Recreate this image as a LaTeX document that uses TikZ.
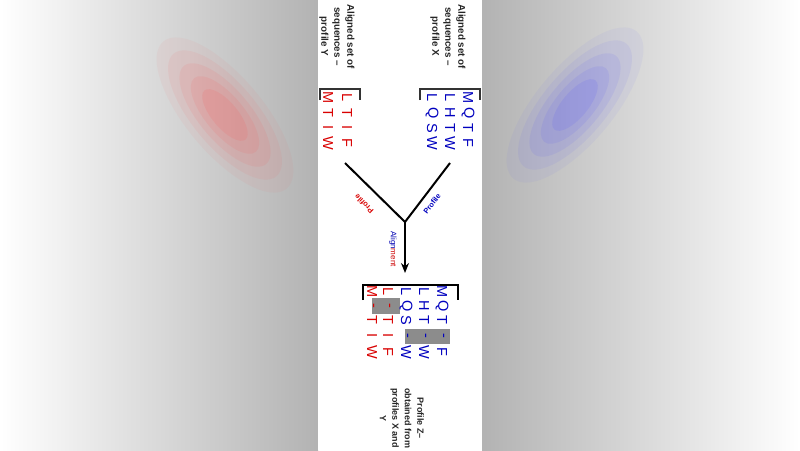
\documentclass[tikz,border=0pt]{standalone}
\usepackage{fontspec}
\usetikzlibrary{arrows.meta}
\setmainfont{Liberation Sans}
\begin{document}
\begin{tikzpicture}[x=1pt,y=-1pt,
  lab/.style={rotate=-90,font=\bfseries\fontsize{9.8}{13}\selectfont,align=center,text=black!85,inner sep=1pt},
  seqX/.style={rotate=-90,font=\fontsize{14.5}{14}\selectfont,text=blue!75!black,inner sep=0},
  seqY/.style={rotate=-90,font=\fontsize{14.5}{14}\selectfont,text=red!85!black,inner sep=0},
  plab/.style={font=\bfseries\fontsize{7.5}{8}\selectfont,inner sep=1pt},
  brk/.style={line width=1.2pt,black!80},
  gap/.style={fill=black!45,draw=none}]
\useasboundingbox (0,0) rectangle (800,450);
\shade[left color=white,right color=black!30] (0,0) rectangle (318,450);
\shade[left color=black!30,right color=white] (482,0) rectangle (800,450);
\foreach \s/\o in {1.2/0.05,1/0.07,0.8/0.09,0.6/0.1,0.4/0.12}{
  \fill[red!70,opacity=\o,rotate around={-50:(225,115)}] (225,115) ellipse ({80*\s} and {32*\s});
  \fill[blue!70,opacity=\o,rotate around={50:(575,105)}] (575,105) ellipse ({80*\s} and {32*\s});
}
\fill[white] (318,0) rectangle (482,450);
% labels
\node[lab,anchor=west] (lx) at (448,3) {Aligned set of\\sequences --\\profile X};
\node[lab,anchor=west] (ly) at (337,3) {Aligned set of\\sequences --\\profile Y};
\node[lab,anchor=west,font=\bfseries\fontsize{9}{12.5}\selectfont] (lz) at (402,387) {Profile Z--\\obtained from\\profiles X and\\Y};
% brackets
\draw[brk] (420,100) -- (420,89) -- (480,89) -- (480,100);
\draw[brk] (320,100) -- (320,89) -- (360,89) -- (360,100);
\draw[line width=2pt] (363,300) -- (363,285) -- (458,285) -- (458,300);
% sequences X and Y
\foreach \r/\x in {{M,Q,T,F}/468,{L,H,T,W}/450,{L,Q,S,W}/432}{
  \foreach \c [count=\i] in \r { \node[seqX] (x\x\i) at (\x,{83+15*\i}) {\c}; } }
\foreach \r/\x in {{L,T,I,F}/347,{M,T,I,W}/328}{
  \foreach \c [count=\i] in \r { \node[seqY] (y\x\i) at (\x,{83+15*\i}) {\c}; } }
% gaps
\fill[gap] (405,329) rectangle (450,344);
\fill[gap] (372,298) rectangle (400,314);
% sequences Z
\foreach \r/\x in {{M,Q,T,-,F}/442,{L,H,T,-,W}/424,{L,Q,S,-,W}/406}{
  \foreach \c [count=\i] in \r { \node[seqX] (z\x\i) at (\x,{\i==1?292:(\i==2?306:(\i==3?320:(\i==4?336:352)))}) {\c}; } }
\foreach \r/\x in {{L,-,T,I,F}/388,{M,-,T,I,W}/372}{
  \foreach \c [count=\i] in \r { \node[seqY] (w\x\i) at (\x,{\i==1?292:(\i==2?306:(\i==3?320:(\i==4?336:352)))}) {\c}; } }
% tree
\coordinate (j) at (405,222);
\coordinate (ex) at (450,163);
\coordinate (ey) at (345,163);
\coordinate (az) at (405,273);
\draw[line width=2pt] (ex) -- (j);
\draw[line width=2pt] (ey) -- (j);
\node[plab,text=blue!75!black,rotate=52.7] (pb) at (432,204) {Profile};
\node[plab,text=red!85!black,rotate=135.5] (pr) at (364,204) {Profile};
\draw[line width=2pt,-{Stealth[length=10pt,width=8pt]}] (j) -- (az);
\node[rotate=-90,font=\fontsize{8}{8}\selectfont,anchor=west,inner sep=0] (al) at (393,231) {\textcolor{blue!70!black}{Align}\textcolor{red!80!black}{ment}};
\end{tikzpicture}
\end{document}
